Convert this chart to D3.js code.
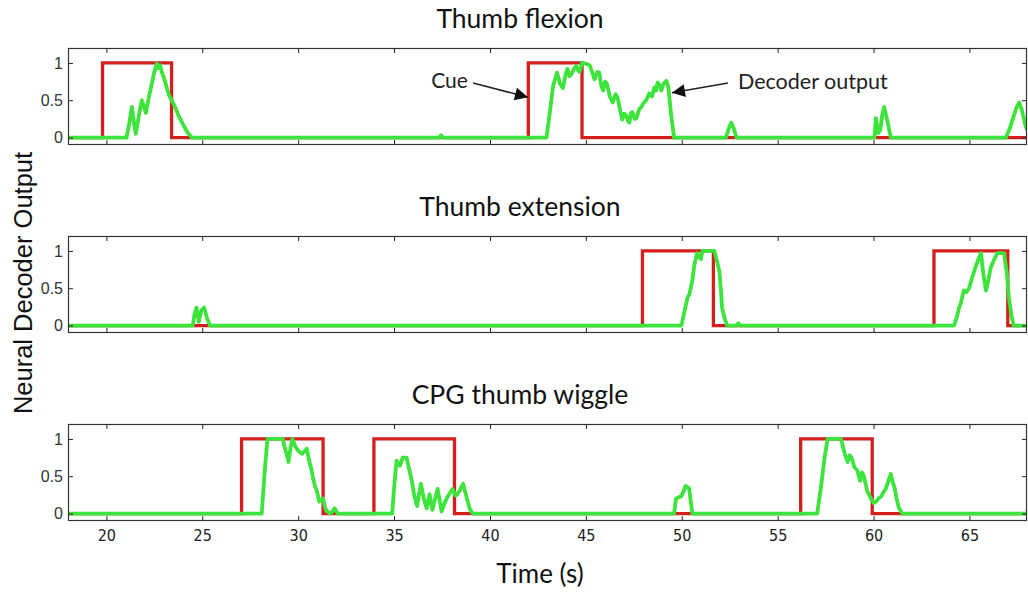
<!DOCTYPE html>
<html>
<head>
<meta charset="utf-8">
<script src="https://cdn.jsdelivr.net/npm/d3@7"></script>
<style>
  html, body { margin: 0; padding: 0; background: #fff; }
  svg { display: block; }
</style>
</head>
<body>
<svg id="chart" width="1028" height="592"></svg>
<script>
// ---------- data ----------
const panelTitles = ["Thumb flexion", "Thumb extension", "CPG thumb wiggle"];
const xTicks = [20, 25, 30, 35, 40, 45, 50, 55, 60, 65];
const yTicks = [0, 0.5, 1];
const yTickLabels = ["0", "0.5", "1"];

// cue: step series [time, value] (value holds until next point)
const flexionCue = [[18,0],[19.8,1],[23.4,0],[42.0,1],[44.8,0],[68,0]];
const extensionCue = [[18,0],[47.95,1],[51.65,0],[63.15,1],[67.0,0],[68,0]];
const wiggleCue = [[18,0],[27.05,1],[31.3,0],[33.95,1],[38.15,0],[56.2,1],[59.93,0],[68,0]];

// decoder output [time, value]
const flexionOutput = [
  [18,0],[21.05,0],[21.2,0.2],[21.33,0.41],[21.45,0.18],[21.54,0.05],[21.7,0.3],[21.85,0.5],[21.95,0.42],[22.06,0.33],
  [22.2,0.52],[22.35,0.7],[22.5,0.88],[22.63,0.99],[22.72,0.93],[22.8,0.97],[22.9,0.87],[23.0,0.8],[23.1,0.72],
  [23.2,0.62],[23.3,0.55],[23.45,0.48],[23.6,0.4],[23.75,0.3],[23.95,0.2],[24.2,0.08],[24.45,0],
  [37.35,0],[37.45,0.03],[37.55,0],
  [42.95,0],[43.15,0.4],[43.3,0.7],[43.5,0.87],[43.65,0.72],[43.8,0.66],[43.95,0.85],[44.04,0.92],[44.15,0.82],
  [44.25,0.85],[44.38,0.92],[44.5,0.96],[44.6,0.9],[44.67,0.88],[44.8,1.0],[45.0,0.99],[45.2,0.97],[45.35,0.86],
  [45.45,0.78],[45.6,0.88],[45.7,0.87],[45.8,0.7],[45.9,0.63],[46.0,0.75],[46.1,0.72],[46.25,0.55],[46.4,0.47],
  [46.55,0.58],[46.65,0.54],[46.8,0.35],[46.9,0.24],[47.0,0.32],[47.1,0.3],[47.2,0.22],[47.27,0.2],[47.35,0.33],
  [47.43,0.34],[47.55,0.25],[47.64,0.26],[47.78,0.38],[47.9,0.41],[48.0,0.46],[48.15,0.5],[48.3,0.59],[48.45,0.55],
  [48.57,0.67],[48.66,0.63],[48.74,0.74],[48.85,0.7],[48.93,0.63],[49.05,0.72],[49.2,0.76],[49.3,0.67],[49.45,0.3],[49.6,0],
  [52.3,0],[52.45,0.12],[52.58,0.2],[52.7,0.13],[52.85,0],
  [60.05,0],[60.12,0.26],[60.25,0.06],[60.35,0.1],[60.45,0.3],[60.55,0.41],[60.7,0.25],[60.9,0],
  [66.9,0],[67.1,0.12],[67.3,0.28],[67.45,0.4],[67.6,0.47],[67.75,0.35],[67.9,0.18],[68,0.1]
];
const extensionOutput = [
  [18,0],[24.5,0],[24.6,0.15],[24.7,0.24],[24.82,0.05],[24.95,0.2],[25.1,0.24],[25.25,0.1],[25.4,0],
  [49.98,0],[50.15,0.2],[50.3,0.37],[50.4,0.42],[50.55,0.6],[50.65,0.8],[50.8,0.97],[50.9,0.92],[51.0,0.89],
  [51.07,1.0],[51.7,1.0],[51.85,0.85],[51.96,0.73],[52.05,0.45],[52.1,0.24],[52.25,0.08],[52.37,0],
  [52.85,0],[52.95,0.03],[53.05,0],
  [64.2,0],[64.35,0.12],[64.46,0.24],[64.55,0.3],[64.7,0.47],[64.85,0.45],[64.98,0.5],[65.15,0.65],[65.3,0.77],
  [65.45,0.88],[65.6,0.97],[65.72,0.7],[65.86,0.47],[65.98,0.6],[66.1,0.77],[66.28,0.88],[66.45,0.97],[66.8,0.97],
  [66.95,0.7],[67.06,0.37],[67.18,0.15],[67.3,0],[68,0]
];
const wiggleOutput = [
  [18,0],[28.1,0],[28.25,0.55],[28.4,1.0],[29.2,1.0],[29.3,0.88],[29.4,0.8],[29.5,0.69],[29.6,0.88],[29.7,1.0],
  [29.85,0.9],[29.98,0.85],[30.1,0.82],[30.2,0.8],[30.35,0.84],[30.45,0.87],[30.58,0.7],[30.7,0.58],[30.8,0.45],
  [30.87,0.37],[30.98,0.3],[31.1,0.16],[31.3,0.2],[31.4,0.08],[31.5,0.03],[31.7,0],[31.9,0.07],[32.06,0],
  [34.9,0],[35.02,0.4],[35.13,0.71],[35.3,0.64],[35.45,0.75],[35.65,0.75],[35.9,0.47],[36.05,0.25],[36.2,0.1],
  [36.4,0.4],[36.55,0.2],[36.7,0.07],[36.85,0.26],[37.0,0.05],[37.27,0.33],[37.48,0.03],[37.65,0.15],[37.8,0.23],
  [38.05,0.33],[38.2,0.24],[38.3,0.26],[38.45,0.32],[38.6,0.4],[38.8,0.2],[38.95,0.06],[39.1,0],
  [49.6,0],[49.7,0.2],[49.85,0.22],[49.97,0.23],[50.1,0.3],[50.2,0.37],[50.38,0.34],[50.45,0.2],[50.55,0],
  [57.06,0],[57.25,0.34],[57.45,0.75],[57.6,1.0],[58.3,1.0],[58.4,0.9],[58.5,0.8],[58.65,0.69],[58.75,0.78],
  [58.85,0.75],[59.0,0.62],[59.15,0.58],[59.3,0.44],[59.4,0.55],[59.5,0.5],[59.6,0.38],[59.67,0.3],[59.87,0.2],
  [60.0,0.14],[60.13,0.16],[60.25,0.2],[60.4,0.23],[60.55,0.3],[60.65,0.34],[60.8,0.46],[60.9,0.53],[61.0,0.42],
  [61.1,0.34],[61.2,0.2],[61.33,0.07],[61.5,0],[68,0]
];

const cues = [flexionCue, extensionCue, wiggleCue];
const outputs = [flexionOutput, extensionOutput, wiggleOutput];

// ---------- layout ----------
const svg = d3.select("#chart");
const defs = svg.append("defs");
const left = 68, right = 1027;
const panelTops = [48, 236, 424];
const panelH = 97;
const red = "#d41f1f", green = "#3ce43c";
const titleFont = "Lato, 'Open Sans', sans-serif";

const x = d3.scaleLinear().domain([18, 68]).range([left, right]);

panelTops.forEach((top, i) => {
  const y = d3.scaleLinear().domain([-0.1, 1.2]).range([top + panelH, top]);
  const g = svg.append("g");

  // title
  g.append("text")
    .attr("x", 520).attr("y", top - 20)
    .attr("text-anchor", "middle")
    .attr("font-family", titleFont)
    .attr("font-size", 26.5)
    .attr("fill", "#111")
    .text(panelTitles[i]);

  // clip
  const clipId = "clip" + i;
  defs.append("clipPath").attr("id", clipId)
    .append("rect").attr("x", left).attr("y", top - 2).attr("width", right - left).attr("height", panelH + 4);

  // cue line
  g.append("path")
    .datum(cues[i])
    .attr("clip-path", `url(#${clipId})`)
    .attr("fill", "none").attr("stroke", red).attr("stroke-width", 3.3)
    .attr("d", d3.line().x(d => x(d[0])).y(d => y(d[1])).curve(d3.curveStepAfter));

  // decoder output
  g.append("path")
    .datum(outputs[i])
    .attr("clip-path", `url(#${clipId})`)
    .attr("fill", "none").attr("stroke", green).attr("stroke-width", 3.8)
    .attr("stroke-linejoin", "round")
    .attr("d", d3.line().x(d => x(d[0])).y(d => y(d[1])));

  // axes (ticks inside, MATLAB style)
  const tickLen = 5;
  const bottomAxis = d3.axisBottom(x).tickValues(xTicks).tickSize(-tickLen).tickSizeOuter(0)
    .tickFormat(i === 2 ? d3.format("d") : () => "").tickPadding(9);
  const topAxis = d3.axisTop(x).tickValues(xTicks).tickSize(-tickLen).tickSizeOuter(0).tickFormat(() => "");
  const leftAxis = d3.axisLeft(y).tickValues(yTicks).tickSize(-tickLen).tickSizeOuter(0)
    .tickFormat((d, k) => yTickLabels[k]).tickPadding(5);
  const rightAxis = d3.axisRight(y).tickValues(yTicks).tickSize(-tickLen).tickSizeOuter(0).tickFormat(() => "");

  const styleAxis = sel => {
    sel.select(".domain").remove();
    sel.selectAll(".tick line").attr("stroke", "#222").attr("stroke-width", 1);
  };

  g.append("g").attr("transform", `translate(0,${top + panelH})`).call(bottomAxis).call(styleAxis)
    .selectAll("text").attr("font-family", "'Liberation Sans Narrow','DejaVu Sans Condensed',sans-serif")
    .attr("font-size", 16).attr("fill", "#222");
  g.append("g").attr("transform", `translate(0,${top})`).call(topAxis).call(styleAxis);
  g.append("g").attr("transform", `translate(${left},0)`).call(leftAxis).call(styleAxis)
    .selectAll("text").attr("font-family", "'Liberation Sans',Arial,sans-serif")
    .attr("font-size", 16).attr("fill", "#333");
  g.append("g").attr("transform", `translate(${right},0)`).call(rightAxis).call(styleAxis);

  // box
  g.append("rect")
    .attr("x", left + 0.5).attr("y", top + 0.5)
    .attr("width", right - left - 1).attr("height", panelH - 1)
    .attr("fill", "none").attr("stroke", "#333").attr("stroke-width", 1.2);

  // annotations on first panel
  if (i === 0) {
    defs.append("marker").attr("id", "arrow")
      .attr("viewBox", "0 0 10 10").attr("refX", 10).attr("refY", 5)
      .attr("markerWidth", 15).attr("markerHeight", 13)
      .attr("markerUnits", "userSpaceOnUse")
      .attr("orient", "auto")
      .append("path").attr("d", "M0,0 L10,5 L0,10 Z").attr("fill", "#111");

    g.append("text").attr("x", x(37.89)).attr("y", y(0.73))
      .attr("text-anchor", "middle").attr("dominant-baseline", "middle")
      .attr("font-family", titleFont).attr("font-size", 21).attr("fill", "#222")
      .text("Cue");
    g.append("line")
      .attr("x1", x(39.12)).attr("y1", y(0.73))
      .attr("x2", x(41.98)).attr("y2", y(0.54))
      .attr("stroke", "#222").attr("stroke-width", 1.5).attr("marker-end", "url(#arrow)");

    g.append("text").attr("x", x(52.93)).attr("y", y(0.73))
      .attr("text-anchor", "start").attr("dominant-baseline", "middle")
      .attr("font-family", titleFont).attr("font-size", 21.5).attr("fill", "#222")
      .text("Decoder output");
    g.append("line")
      .attr("x1", x(52.41)).attr("y1", y(0.73))
      .attr("x2", x(49.49)).attr("y2", y(0.6))
      .attr("stroke", "#222").attr("stroke-width", 1.5).attr("marker-end", "url(#arrow)");
  }
});

// axis labels
svg.append("text")
  .attr("x", 540).attr("y", 583)
  .attr("text-anchor", "middle")
  .attr("font-family", titleFont)
  .attr("font-size", 26).attr("fill", "#111")
  .text("Time (s)");

svg.append("text")
  .attr("transform", "translate(32,283) rotate(-90)")
  .attr("text-anchor", "middle")
  .attr("font-family", "'Liberation Sans',Arial,sans-serif")
  .attr("font-size", 25.5).attr("fill", "#111")
  .text("Neural Decoder Output");
</script>
</body>
</html>
